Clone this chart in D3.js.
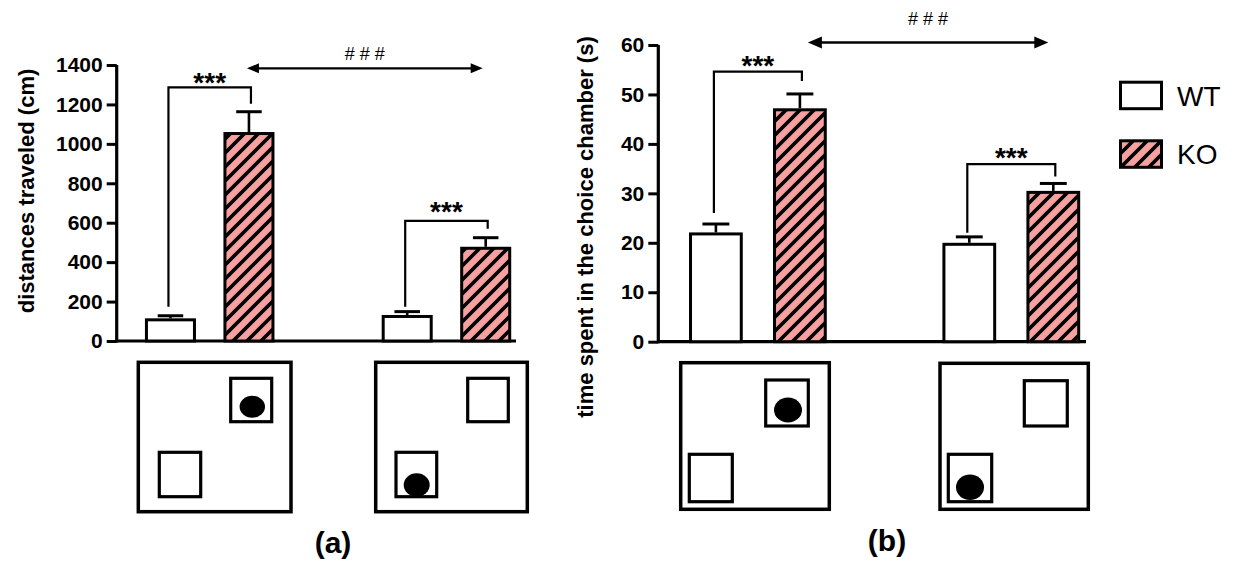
<!DOCTYPE html>
<html>
<head>
<meta charset="utf-8">
<script src="https://cdn.jsdelivr.net/npm/d3@7"></script>
<style>
  html, body { margin: 0; padding: 0; background: #fff; }
  svg { display: block; font-family: "Liberation Sans", Arial, sans-serif; }
</style>
</head>
<body>
<svg id="chart" width="1234" height="574"></svg>
<script>
// ---------- data ----------
const conditions = ["ballTopRight", "ballBottomLeft"];
const genotypes = ["WT", "KO"];

// (a) distances traveled (cm)
const distWT = [115, 132];
const distWTErr = [13, 17];
const distKO = [1060, 478];
const distKOErr = [103, 46];
const distTicks = [0, 200, 400, 600, 800, 1000, 1200, 1400];
const distSig = [1287, 609];         // bracket heights (cm)
const distArrow = 1383;              // ### arrow height (cm)

// (b) time spent in the choice chamber (s)
const timeWT = [22.1, 20.0];
const timeWTErr = [1.7, 1.2];
const timeKO = [47.2, 30.5];
const timeKOErr = [2.9, 1.5];
const timeTicks = [0, 10, 20, 30, 40, 50, 60];
const timeSig = [54.6, 35.9];
const timeArrow = 60.5;

const sigLabels = ["***", "***"];
const betweenLabel = "# # #";
const yLabels = ["distances traveled (cm)", "time spent in the choice chamber (s)"];
const panelLabels = ["(a)", "(b)"];

// ---------- drawing ----------
const svg = d3.select("#chart");
const FONT = "'Liberation Sans', Arial, sans-serif";
const PINK = "#f6a09f";

const defs = svg.append("defs");
const pat = defs.append("pattern")
  .attr("id", "hatch").attr("patternUnits", "userSpaceOnUse")
  .attr("width", 14).attr("height", 14);
pat.append("rect").attr("width", 14).attr("height", 14).attr("fill", PINK);
pat.append("path")
  .attr("d", "M-3.5,3.5 L3.5,-3.5 M0,14 L14,0 M10.5,17.5 L17.5,10.5")
  .attr("stroke", "#000").attr("stroke-width", 3.6);

function panel(cfg) {
  const g = svg.append("g");
  const y = d3.scaleLinear().domain([0, cfg.max]).range([cfg.y0, cfg.y1]);
  const xc = d3.scalePoint().domain(conditions).range([cfg.ax + cfg.c1, cfg.ax + cfg.c1 + cfg.sep]);
  const half = cfg.off * 2;
  const xi = d3.scaleBand().domain(genotypes).range([-half, half]).paddingInner(cfg.pad).paddingOuter(cfg.pad / 2);
  const bw = xi.bandwidth();

  // y axis
  const axis = d3.axisLeft(y).tickValues(cfg.ticks).tickFormat(d3.format("d"))
    .tickSize(10).tickSizeOuter(0).tickPadding(4);
  const ag = g.append("g").attr("transform", `translate(${cfg.ax},0)`).call(axis);
  ag.select(".domain").attr("stroke", "#000").attr("stroke-width", 3.2)
    .attr("d", `M0,${cfg.y0 + 1.5}V${cfg.y1}`);
  ag.selectAll(".tick line").attr("stroke", "#000").attr("stroke-width", 3);
  ag.selectAll(".tick text").attr("fill", "#000").attr("font-family", FONT)
    .attr("font-size", 21).attr("font-weight", "bold");

  // x axis line
  g.append("line").attr("x1", cfg.ax).attr("x2", cfg.xEnd)
    .attr("y1", cfg.y0).attr("y2", cfg.y0)
    .attr("stroke", "#000").attr("stroke-width", 3.2);

  // rows
  const rows = [];
  conditions.forEach((c, i) => {
    rows.push({ c, gt: "WT", v: cfg.wt[i], e: cfg.wtErr[i] });
    rows.push({ c, gt: "KO", v: cfg.ko[i], e: cfg.koErr[i] });
  });
  const cx = d => xc(d.c) + xi(d.gt) + bw / 2;

  // error bars (above only)
  g.selectAll(".err").data(rows).join("line")
    .attr("x1", cx).attr("x2", cx)
    .attr("y1", d => y(d.v)).attr("y2", d => y(d.v + d.e))
    .attr("stroke", "#000").attr("stroke-width", 2.6);
  g.selectAll(".cap").data(rows).join("line")
    .attr("x1", d => cx(d) - bw / 4).attr("x2", d => cx(d) + bw / 4)
    .attr("y1", d => y(d.v + d.e)).attr("y2", d => y(d.v + d.e))
    .attr("stroke", "#000").attr("stroke-width", 3);

  // bars
  g.selectAll(".bar").data(rows).join("rect")
    .attr("x", d => xc(d.c) + xi(d.gt) + 1.5)
    .attr("width", bw - 3)
    .attr("y", d => y(d.v) + 1.5)
    .attr("height", d => cfg.y0 - y(d.v) - 1.5)
    .attr("fill", d => d.gt === "WT" ? "#fff" : "url(#hatch)")
    .attr("stroke", "#000").attr("stroke-width", 3);

  // significance brackets
  conditions.forEach((c, i) => {
    const xl = xc(c) + xi("WT") + bw / 2 - 2;
    const xr = xc(c) + xi("KO") + bw / 2 + 2;
    const top = y(cfg.sig[i]);
    const yl = y(cfg.wt[i] + cfg.wtErr[i]) - cfg.gapL[i];
    const yr = y(cfg.ko[i] + cfg.koErr[i]) - cfg.gapR[i];
    g.append("path").attr("d", `M${xl},${yl}V${top}H${xr}V${yr}`)
      .attr("fill", "none").attr("stroke", "#000").attr("stroke-width", 2.2);
    g.append("text").attr("x", (xl + xr) / 2).attr("y", top - cfg.starGap[i])
      .attr("text-anchor", "middle").attr("font-family", FONT)
      .attr("font-size", 28).attr("font-weight", "bold").text(sigLabels[i]);
  });

  // between-condition arrow
  const ax1 = xc(conditions[0]) + xi("KO") + bw / 2 + cfg.arrDx[0];
  const ax2 = xc(conditions[1]) + xi("KO") + bw / 2 + cfg.arrDx[1];
  const ay = y(cfg.arrow);
  const hl = cfg.head[0], hh = cfg.head[1] / 2;
  g.append("line").attr("x1", ax1 + hl - 1).attr("x2", ax2 - hl + 1).attr("y1", ay).attr("y2", ay)
    .attr("stroke", "#000").attr("stroke-width", 2.4);
  g.append("path").attr("d", `M${ax1},${ay}L${ax1 + hl},${ay - hh}L${ax1 + hl},${ay + hh}Z`).attr("fill", "#000");
  g.append("path").attr("d", `M${ax2},${ay}L${ax2 - hl},${ay - hh}L${ax2 - hl},${ay + hh}Z`).attr("fill", "#000");
  g.append("text").attr("x", (ax1 + ax2) / 2).attr("y", ay - cfg.hashGap)
    .attr("text-anchor", "middle").attr("font-family", FONT)
    .attr("font-size", 18).text(betweenLabel);

  // y label
  g.append("text")
    .attr("transform", `translate(${cfg.labX},${cfg.labY}) rotate(-90)`)
    .attr("text-anchor", "middle").attr("font-family", FONT)
    .attr("font-size", 22).attr("font-weight", "bold").text(cfg.label);

  // chamber diagrams
  cfg.diagrams.forEach(dg => {
    g.append("rect").attr("x", dg.outer[0]).attr("y", dg.outer[1])
      .attr("width", dg.outer[2] - dg.outer[0]).attr("height", dg.outer[3] - dg.outer[1])
      .attr("fill", "none").attr("stroke", "#000").attr("stroke-width", 3.5);
    dg.inner.forEach(r => {
      g.append("rect").attr("x", r[0]).attr("y", r[1])
        .attr("width", r[2] - r[0]).attr("height", r[3] - r[1])
        .attr("fill", "none").attr("stroke", "#000").attr("stroke-width", 3.2);
    });
    g.append("ellipse").attr("cx", dg.ball[0]).attr("cy", dg.ball[1])
      .attr("rx", dg.ball[2]).attr("ry", dg.ball[3]).attr("fill", "#000");
  });

  // panel label
  g.append("text").attr("x", cfg.pX).attr("y", cfg.pY)
    .attr("text-anchor", "middle").attr("font-family", FONT)
    .attr("font-size", 30).attr("font-weight", "bold").text(cfg.pLabel);
}

panel({
  max: 1400, y0: 341, y1: 65, ax: 116.7, xEnd: 516, c1: 93, sep: 236.75,
  off: 39.25, pad: 0.35, ticks: distTicks,
  wt: distWT, wtErr: distWTErr, ko: distKO, koErr: distKOErr,
  sig: distSig, gapL: [9, 5], gapR: [8, 9], starGap: [-4.5, -0.5],
  arrow: distArrow, arrDx: [-2, -3], head: [12, 10], hashGap: 8,
  label: yLabels[0], labX: 34, labY: 191,
  diagrams: [
    { outer: [138.3, 362.3, 291, 511.7], inner: [[230.7, 378.3, 271.7, 421.7], [159.3, 452.3, 200.7, 496.7]], ball: [252.3, 406.7, 12.7, 11] },
    { outer: [375.7, 362.3, 527.3, 511.7], inner: [[467.7, 378.3, 508.3, 421.7], [396, 452.3, 436.7, 496.7]], ball: [416.7, 485, 13, 11.7] }
  ],
  pLabel: panelLabels[0], pX: 333, pY: 553
});

panel({
  max: 60, y0: 341.7, y1: 45, ax: 658.3, xEnd: 1086, c1: 99.6, sep: 253.4,
  off: 42, pad: 0.36, ticks: timeTicks,
  wt: timeWT, wtErr: timeWTErr, ko: timeKO, koErr: timeKOErr,
  sig: timeSig, gapL: [11, 4], gapR: [13, 7], starGap: [-3.5, -2.5],
  arrow: timeArrow, arrDx: [8, -5], head: [14, 12], hashGap: 18,
  label: yLabels[1], labX: 593, labY: 227,
  diagrams: [
    { outer: [680.7, 362.7, 829.3, 509.3], inner: [[765.7, 380, 808.3, 426], [689.3, 454.3, 732.3, 501.7]], ball: [788, 410, 14, 12.5] },
    { outer: [940, 363.3, 1088.3, 509.3], inner: [[1024.3, 380.7, 1067.3, 426], [948.3, 454.3, 991.7, 501.7]], ball: [970, 487.3, 14, 12.7] }
  ],
  pLabel: panelLabels[1], pX: 887, pY: 551
});

// legend
const legend = svg.append("g");
const legendItems = genotypes.map((gt, i) => ({ gt, y: [80.7, 139.3][i] }));
legend.selectAll("rect").data(legendItems).join("rect")
  .attr("x", 1120.5).attr("y", d => d.y + 1.5).attr("width", 41).attr("height", 26.5)
  .attr("fill", d => d.gt === "WT" ? "#fff" : "url(#hatch)")
  .attr("stroke", "#000").attr("stroke-width", 3);
legend.selectAll("text").data(legendItems).join("text")
  .attr("x", 1177).attr("y", d => d.y + 25)
  .attr("font-family", FONT).attr("font-size", 28).text(d => d.gt);
</script>
</body>
</html>
